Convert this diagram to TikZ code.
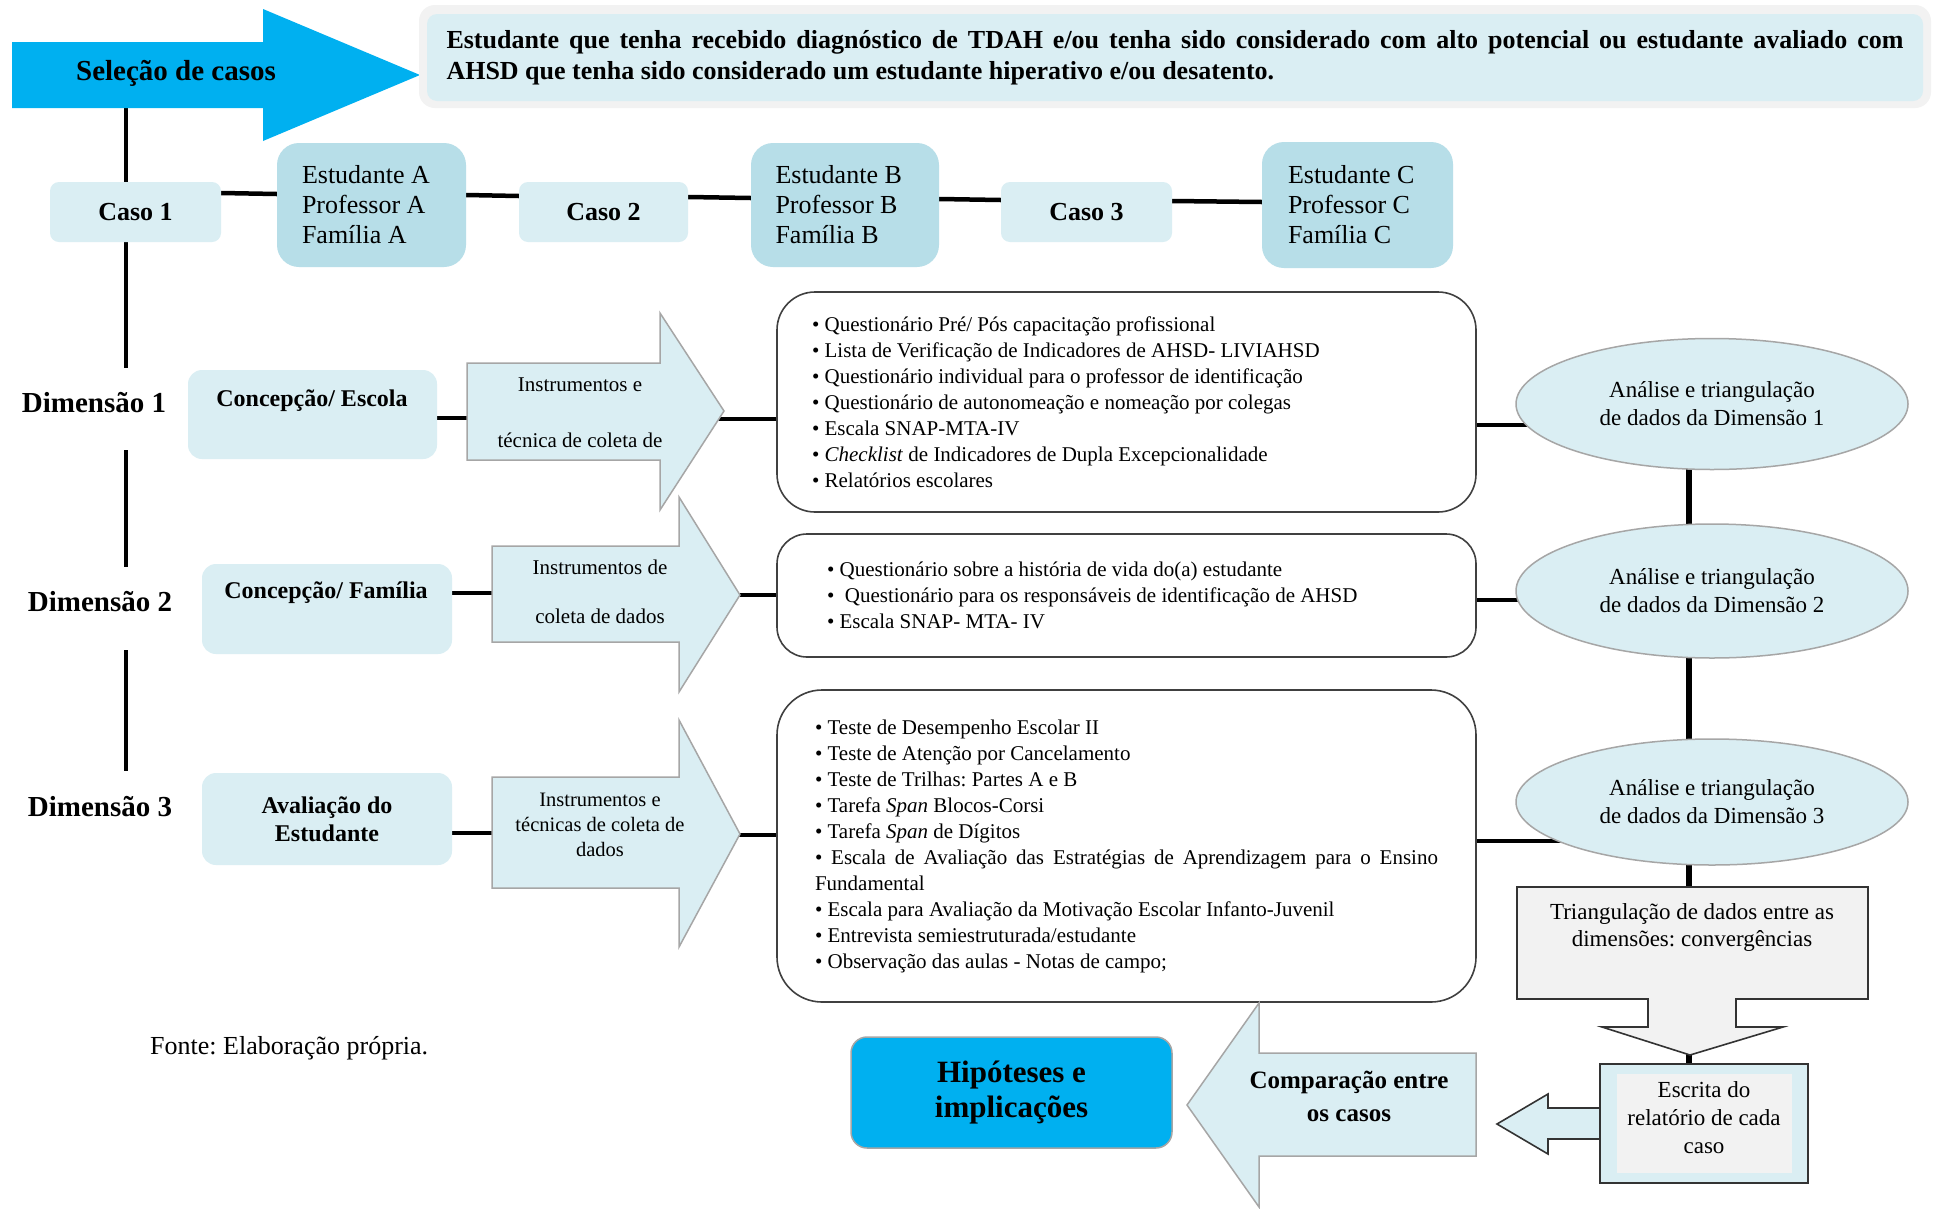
\documentclass[tikz,border=0pt]{standalone}
\usepackage{fontspec}
\setmainfont{Liberation Serif}
\usetikzlibrary{shapes.geometric,calc,backgrounds}
\definecolor{cyanb}{HTML}{00B0F0}
\definecolor{lblue}{HTML}{DAEEF3}
\definecolor{mblue}{HTML}{B7DEE8}
\definecolor{lgray}{HTML}{F2F2F2}
\definecolor{bgray}{HTML}{A6A6A6}
\definecolor{dgray}{HTML}{404040}
\frenchspacing
\newcommand\fsz[2]{\fontsize{#1pt}{#2pt}\selectfont}
\newcommand\nsp{\spaceskip=0pt\xspaceskip=0pt\relax}
\newcommand\fillline[2]{\leavevmode\hbox to #1{\spaceskip=0.25em plus 1fil\relax #2}}
\begin{document}
\begin{tikzpicture}[x=1pt,y=-1pt,
  conn/.style={line width=4.5pt, black},
  vconn/.style={line width=5.5pt, black},
  casebox/.style={rectangle, inner sep=0pt, fill=lblue, rounded corners=9pt, minimum height=60pt, font=\bfseries\fsz{26}{30}},
  persbox/.style={rectangle, inner sep=0pt, fill=mblue, rounded corners=22pt, minimum height=124pt, text width=139pt, align=left, font=\fsz{26}{30}},
  dimlab/.style={inner sep=0pt, font=\bfseries\fsz{29}{33}},
  dimbox/.style={rectangle, inner sep=0pt, fill=lblue, rounded corners=14pt, minimum width=250pt, align=center},
  dimtxt/.style={inner sep=0pt, font=\bfseries\fsz{24}{28}},
  bigarrow/.style={fill=lblue, draw=bgray, line width=1.5pt},
  arrtxt/.style={inner sep=0pt, align=center},
  listbox/.style={rectangle, draw=dgray, line width=1.6pt, fill=white, inner sep=0pt, minimum width=699pt, align=left, font=\fsz{21}{26}},
  ellbox/.style={ellipse, fill=lblue, draw=bgray, line width=1.5pt, inner sep=0pt, minimum width=392pt, minimum height=131pt, align=center, font=\fsz{23}{28}},
  tribox/.style={fill=lgray, draw=black!80, line width=1.6pt}
]
\useasboundingbox (0,0) rectangle (1933,1208);

% Selecao de casos arrow
\fill[cyanb] (12,42) -- (263,42) -- (263,9) -- (420,75) -- (263,141) -- (263,108) -- (12,108) -- cycle;
\node[inner sep=0pt, font=\bfseries\fsz{29}{33}] (sel) at (176,73) {Seleção de casos};
\coordinate (selb) at (126,108);

% criteria box
\node[fill=lgray, rounded corners=16pt, inner sep=0pt, minimum width=1512pt, minimum height=103pt] (critbg) at (1175,56.5) {};
\node[fill=lblue, rounded corners=10pt, inner sep=0pt, minimum width=1496pt, minimum height=87pt, text width=1457pt, align=left, font=\bfseries\fsz{26}{30.5}] (crit) at (1175,57.5) {\nsp\fillline{1457pt}{Estudante que tenha recebido diagnóstico de TDAH e/ou tenha sido considerado com alto potencial ou estudante avaliado com}\\AHSD que tenha sido considerado um estudante hiperativo e/ou desatento.};

% cases
\node[casebox, minimum width=171pt] (c1) at (135.5,212) {Caso 1};
\node[persbox, minimum width=189pt] (pa) at (371.5,205) {\nsp Estudante A\\Professor A\\Família A};
\node[casebox, minimum width=169pt] (c2) at (603.5,212) {Caso 2};
\node[persbox, minimum width=188pt] (pb) at (845,205) {\nsp Estudante B\\Professor B\\Família B};
\node[casebox, minimum width=171pt] (c3) at (1086.5,212) {Caso 3};
\node[persbox, minimum width=191pt, minimum height=126pt] (pc) at (1357.5,205) {\nsp Estudante C\\Professor C\\Família C};

% dimension labels
\node[dimlab] (d1) at (94,403) {Dimensão 1};
\node[dimlab] (d2) at (100,602) {Dimensão 2};
\node[dimlab] (d3) at (100,807) {Dimensão 3};

% dimension boxes
\node[dimbox, minimum width=249pt, minimum height=89pt] (ce) at (312.5,414.5) {};
\node[dimtxt] (cet) at (312,401) {Concepção/ Escola};
\node[dimbox, minimum height=90pt] (cf) at (327,609) {};
\node[dimtxt] (cft) at (326,593) {Concepção/ Família};
\node[dimbox, minimum height=92pt, font=\bfseries\fsz{24}{28}] (av) at (327,819) {\nsp Avaliação do\\Estudante};

% instrument arrows
\draw[bigarrow] (467,363) -- (660,363) -- (660,313) -- (724,411) -- (660,510) -- (660,460) -- (467,460) -- cycle;
\node[arrtxt, font=\fsz{21}{56}] (a1t) at (580,413) {\nsp Instrumentos e\\técnica de coleta de};
\coordinate (a1in) at (467,418);
\coordinate (a1out) at (700,419);

\draw[bigarrow] (492,546) -- (679,546) -- (679,497) -- (740,595) -- (679,692) -- (679,642) -- (492,642) -- cycle;
\node[arrtxt, font=\fsz{21}{49}] (a2t) at (600,592) {\nsp Instrumentos de\\coleta de dados};
\coordinate (a2in) at (492,593);
\coordinate (a2out) at (715,595);

\draw[bigarrow] (492,777) -- (679,777) -- (679,720) -- (740,834) -- (679,947) -- (679,888) -- (492,888) -- cycle;
\node[arrtxt, font=\fsz{20.5}{25}] (a3t) at (600,825) {\nsp Instrumentos e\\técnicas de coleta de\\dados};
\coordinate (a3in) at (492,833);
\coordinate (a3out) at (715,835);

% lists
\node[listbox, rounded corners=38pt, minimum height=220pt, text width=629pt] (l1) at (1126.5,402) {\nsp
\textbullet\ Questionário Pré/ Pós capacitação profissional\\
\textbullet\ Lista de Verificação de Indicadores de AHSD- LIVIAHSD\\
\textbullet\ Questionário individual para o professor de identificação\\
\textbullet\ Questionário de autonomeação e nomeação por colegas\\
\textbullet\ Escala SNAP-MTA-IV\\
\textbullet\ \textit{Checklist} de Indicadores de Dupla Excepcionalidade\\
\textbullet\ Relatórios escolares};

\node[listbox, rounded corners=30pt, minimum height=123pt, text width=599pt] (l2) at (1126.5,595.5) {\nsp
\textbullet\ Questionário sobre a história de vida do(a) estudante\\
\textbullet\ \ Questionário para os responsáveis de identificação de AHSD\\
\textbullet\ Escala SNAP- MTA- IV};

\node[listbox, rounded corners=45pt, minimum height=312pt, text width=623pt] (l3) at (1126.5,846) {\nsp
\textbullet\ Teste de Desempenho Escolar II\\
\textbullet\ Teste de Atenção por Cancelamento\\
\textbullet\ Teste de Trilhas: Partes A e B\\
\textbullet\ Tarefa \textit{Span} Blocos-Corsi\\
\textbullet\ Tarefa \textit{Span} de Dígitos\\
\fillline{623pt}{\textbullet\ Escala de Avaliação das Estratégias de Aprendizagem para o Ensino}\\
Fundamental\\
\textbullet\ Escala para Avaliação da Motivação Escolar Infanto-Juvenil\\
\textbullet\ Entrevista semiestruturada/estudante\\
\textbullet\ Observação das aulas - Notas de campo;};

% ellipses
\node[ellbox] (e1) at (1712,404) {\nsp Análise e triangulação\\de dados da Dimensão 1};
\node[ellbox, minimum height=134pt] (e2) at (1712,591) {\nsp Análise e triangulação\\de dados da Dimensão 2};
\node[ellbox, minimum height=126pt] (e3) at (1712,802) {\nsp Análise e triangulação\\de dados da Dimensão 3};
\coordinate (vx) at (1689,0);

% triangulation
\draw[tribox] (1517,887) -- (1868,887) -- (1868,999) -- (1736,999) -- (1736,1027) -- (1783,1027) -- (1690,1055) -- (1602,1027) -- (1648,1027) -- (1648,999) -- (1517,999) -- cycle;
\node[inner sep=0pt, minimum width=351pt, minimum height=112pt] (tri) at (1692.5,943) {};
\node[inner sep=0pt, align=center, font=\fsz{23}{27}] (trit) at (1692,927) {\nsp Triangulação de dados entre as\\dimensões: convergências};
\coordinate (tritip) at (1689,1040);

% escrita
\draw[tribox, fill=lblue] (1600,1108) -- (1548,1108) -- (1548,1094) -- (1497,1124) -- (1548,1154) -- (1548,1139) -- (1600,1139) -- cycle;
\node[draw=black!80, line width=1.6pt, fill=lblue, inner sep=0pt, minimum width=208pt, minimum height=119pt] (esc) at (1704,1123.5) {};
\fill[lgray] (1617,1074) rectangle (1792,1173);
\node[inner sep=0pt, align=center, font=\fsz{23}{28}] (esct) at (1704,1118) {\nsp Escrita do\\relatório de cada\\caso};

% comparacao
\draw[bigarrow] (1476,1053) -- (1259,1053) -- (1259,1003) -- (1187,1105) -- (1259,1207) -- (1259,1156) -- (1476,1156) -- cycle;
\node[inner sep=0pt, align=center, font=\bfseries\fsz{25}{33}] (comp) at (1349,1096) {\nsp Comparação entre\\os casos};

% hipoteses
\node[fill=cyanb, draw=bgray, line width=1.5pt, rounded corners=16pt, inner sep=0pt, minimum width=321pt, minimum height=111pt, align=center, font=\bfseries\fsz{31}{35}] (hip) at (1011.5,1092.5) {\nsp Hipóteses e\\implicações};

% fonte
\node[anchor=west, inner sep=0pt, font=\fsz{26}{30}] (fonte) at (150,1048) {Fonte: Elaboração própria.};

% connectors behind
\begin{scope}[on background layer]
\fill[white] (0,0) rectangle (1933,1208);
\draw[conn] (selb) -- (selb |- c1.north);
\draw[conn] (selb |- c1.south) -- ($(selb |- d1.center)+(0,-35)$);
\draw[conn] ($(selb |- d1.center)+(0,47)$) -- ($(selb |- d2.center)+(0,-35)$);
\draw[conn] ($(selb |- d2.center)+(0,48)$) -- ($(selb |- d3.center)+(0,-36)$);
\draw[conn] (c1.east |- 0,193) -- (pa.west |- 0,194);
\draw[conn] (pa.east |- 0,195) -- (c2.west |- 0,196);
\draw[conn] (c2.east |- 0,197) -- (pb.west |- 0,198);
\draw[conn] (pb.east |- 0,199) -- (c3.west |- 0,200);
\draw[conn] (c3.east |- 0,201) -- (pc.west |- 0,202);
\draw[conn] (ce.east |- a1in) -- (a1in);
\draw[conn] (a1out) -- (l1.west |- a1out);
\draw[conn] (cf.east |- a2in) -- (a2in);
\draw[conn] (a2out) -- (l2.west |- a2out);
\draw[conn] (av.east |- a3in) -- (a3in);
\draw[conn] (a3out) -- (l3.west |- a3out);
\draw[conn] (l1.east |- 0,425) -- (e1.center |- 0,425);
\draw[conn] (l2.east |- 0,600) -- (e2.center |- 0,600);
\draw[conn] (l3.east |- 0,841) -- (e3.center |- 0,841);
\draw[vconn] (vx |- e1.center) -- (vx |- e2.center);
\draw[vconn] (vx |- e2.center) -- (vx |- e3.center);
\draw[vconn] (vx |- e3.center) -- (vx |- tri.center);
\draw[vconn] (tritip) -- (vx |- esc.center);
\end{scope}
\end{tikzpicture}
\end{document}
